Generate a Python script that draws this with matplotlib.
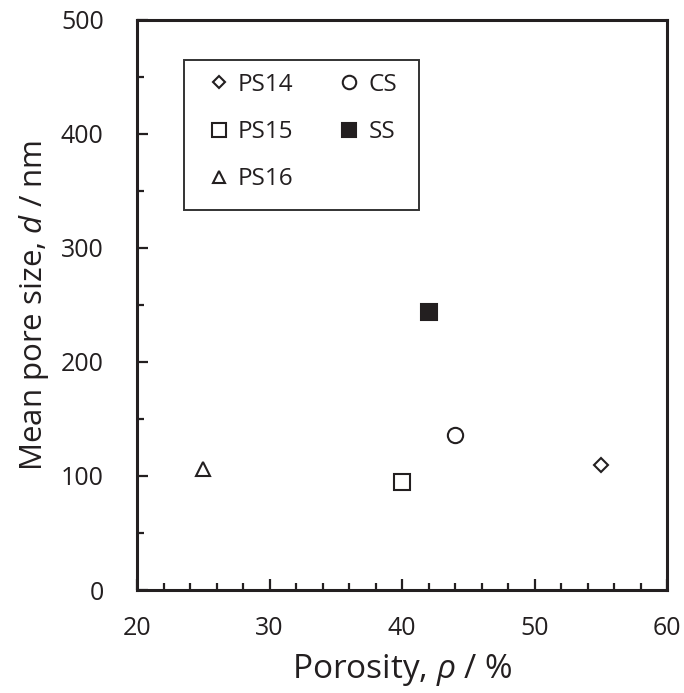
import matplotlib
matplotlib.use("Agg")
import matplotlib.pyplot as plt
from matplotlib.ticker import MultipleLocator
from matplotlib.patches import Rectangle

plt.rcParams['font.family'] = ['Open Sans', 'DejaVu Sans']
plt.rcParams['mathtext.fontset'] = 'custom'
plt.rcParams['mathtext.it'] = 'Open Sans:italic'
plt.rcParams['mathtext.rm'] = 'Open Sans'

# Samples: porosity (%) and mean pore size (nm)
labels = ["PS14", "PS15", "PS16", "CS", "SS"]
porosity = [55, 40, 25, 44, 42]
pore_size = [110, 95, 106, 136, 244]
markers = ["D", "s", "^", "o", "s"]
sizes = [7.5, 11, 10.5, 11, 11]
filled = [False, False, False, False, True]

ink = "#231f20"

W, H = 684, 693
fig = plt.figure(figsize=(W / 100, H / 100), dpi=100)
ax = fig.add_axes([137 / W, 1 - 590 / H, 530 / W, 570 / H])

for lab, x, y, m, s, f in zip(labels, porosity, pore_size, markers, sizes, filled):
    ax.plot([x], [y], linestyle="none", marker=m, markersize=s,
            markerfacecolor=ink if f else "white", markeredgecolor=ink,
            markeredgewidth=1.5, label=lab)

ax.set_xlim(20, 60)
ax.set_ylim(0, 500)
ax.xaxis.set_major_locator(MultipleLocator(10))
ax.xaxis.set_minor_locator(MultipleLocator(2))
ax.yaxis.set_major_locator(MultipleLocator(100))
ax.yaxis.set_minor_locator(MultipleLocator(50))
ax.tick_params(which="both", direction="in", top=False, right=False,
               colors=ink, width=1.6)
ax.tick_params(which="major", length=8, labelsize=18)
ax.tick_params(axis="x", which="major", pad=19)
ax.tick_params(axis="y", which="major", pad=24)
ax.tick_params(which="minor", length=5)
for sp in ax.spines.values():
    sp.set_linewidth(2.2)
    sp.set_color(ink)

ax.set_xlabel(r"Porosity, $\it{\rho}$ / %", fontsize=24, color=ink, labelpad=8)
ax.set_ylabel(r"Mean pore size, $\it{d}$ / nm", fontsize=22.5, color=ink, labelpad=7)

# legend frame drawn as a plain rectangle
frame = Rectangle(((184 - 137) / 530, (590 - 210) / 570), 235 / 530, 150 / 570,
                  transform=ax.transAxes, fill=False, edgecolor="#333333",
                  linewidth=1.4, zorder=4)
ax.add_patch(frame)

leg = ax.legend(ncol=2, loc="upper left",
                bbox_to_anchor=((209 - 137) / 530, (590 - 73) / 570),
                fontsize=17.5, frameon=False,
                markerscale=0.88, handlelength=0.8, handletextpad=0.39,
                columnspacing=1.9, labelspacing=0.95, borderpad=0,
                borderaxespad=0)
for t in leg.get_texts():
    t.set_color(ink)

fig.savefig("out.png", dpi=100)
